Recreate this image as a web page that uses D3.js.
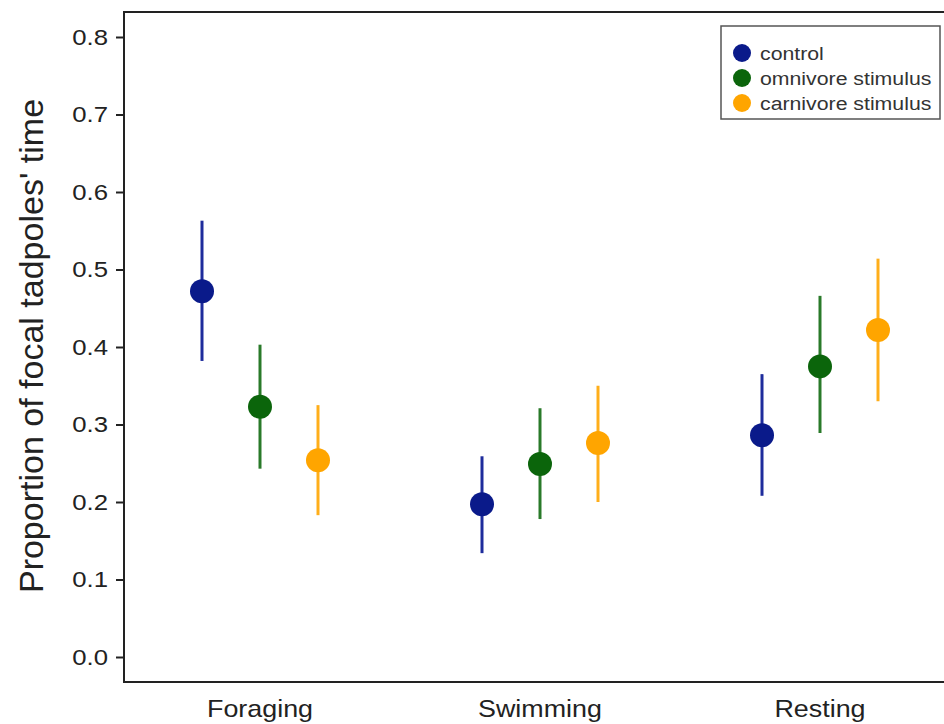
<!DOCTYPE html>
<html>
<head>
<meta charset="utf-8">
<script src="https://cdn.jsdelivr.net/npm/d3@7"></script>
<style>
  body { margin: 0; background: #fff; }
  svg { display: block; font-family: "Liberation Sans", Arial, sans-serif; }
</style>
</head>
<body>
<svg id="chart" width="944" height="724"></svg>
<script>
// data
const behaviours = ["Foraging", "Swimming", "Resting"];
const treatments = ["control", "omnivore stimulus", "carnivore stimulus"];
const colours = ["#0a1a8a", "#0b650b", "#ffa500"];
const barColours = ["#1e2c9c", "#2a7a2a", "#ffae1a"];

const meanControl   = [0.472, 0.197, 0.286];
const meanOmnivore  = [0.323, 0.249, 0.375];
const meanCarnivore = [0.254, 0.276, 0.422];

const lowControl    = [0.382, 0.134, 0.208];
const highControl   = [0.563, 0.259, 0.365];
const lowOmnivore   = [0.243, 0.178, 0.289];
const highOmnivore  = [0.403, 0.321, 0.466];
const lowCarnivore  = [0.183, 0.200, 0.330];
const highCarnivore = [0.325, 0.350, 0.514];

const yTicks = [0, 0.1, 0.2, 0.3, 0.4, 0.5, 0.6, 0.7, 0.8];

const means = [meanControl, meanOmnivore, meanCarnivore];
const lows = [lowControl, lowOmnivore, lowCarnivore];
const highs = [highControl, highOmnivore, highCarnivore];

const svg = d3.select("#chart");
const frame = { left: 124, top: 12, right: 956, bottom: 682 };
const stretch = 1.12; // the original text is a bit wide

const x = d3.scalePoint().domain(behaviours).range([260, 820]);
const offset = d3.scalePoint().domain(treatments).range([-58, 58]);
const y = d3.scaleLinear().domain([0, 0.8]).range([657, 37]);

// one row per point
const rows = [];
treatments.forEach((t, i) => {
  behaviours.forEach((b, j) => {
    rows.push({ t, i, b, mean: means[i][j], lo: lows[i][j], hi: highs[i][j] });
  });
});

// frame
svg.append("rect")
  .attr("x", frame.left).attr("y", frame.top)
  .attr("width", frame.right - frame.left).attr("height", frame.bottom - frame.top)
  .attr("fill", "none").attr("stroke", "#222").attr("stroke-width", 2);

// y axis
const yAxis = svg.append("g")
  .attr("transform", `translate(${frame.left},0)`)
  .call(d3.axisLeft(y).tickValues(yTicks).tickFormat(d3.format(".1f")).tickSize(8));
yAxis.select(".domain").remove();
yAxis.selectAll("line").attr("stroke", "#222").attr("stroke-width", 2);
yAxis.selectAll("text")
  .attr("x", 0)
  .attr("transform", `translate(-16,0) scale(${stretch},1)`)
  .attr("font-size", 23).attr("fill", "#222")
  .attr("font-family", "Liberation Sans, Arial, sans-serif");

// x labels (no tick marks)
svg.append("g").selectAll("text")
  .data(behaviours).join("text")
  .attr("transform", d => `translate(${x(d)},717) scale(${stretch},1)`)
  .attr("text-anchor", "middle")
  .attr("font-size", 24).attr("fill", "#222")
  .text(d => d);

// y title
svg.append("text")
  .attr("transform", "translate(43,346) rotate(-90)")
  .attr("text-anchor", "middle")
  .attr("font-size", 34).attr("fill", "#222")
  .text("Proportion of focal tadpoles' time");

// error bars
svg.append("g").selectAll("line")
  .data(rows).join("line")
  .attr("x1", d => x(d.b) + offset(d.t)).attr("x2", d => x(d.b) + offset(d.t))
  .attr("y1", d => y(d.lo)).attr("y2", d => y(d.hi))
  .attr("stroke", d => barColours[d.i]).attr("stroke-width", 3);

// points
svg.append("g").selectAll("circle")
  .data(rows).join("circle")
  .attr("cx", d => x(d.b) + offset(d.t)).attr("cy", d => y(d.mean))
  .attr("r", 12)
  .attr("fill", d => colours[d.i]);

// legend
const legend = svg.append("g");
legend.append("rect")
  .attr("x", 721).attr("y", 26).attr("width", 219).attr("height", 93)
  .attr("fill", "#fff").attr("stroke", "#555").attr("stroke-width", 1.5);
const items = legend.selectAll("g.item")
  .data(treatments).join("g").attr("class", "item")
  .attr("transform", (d, i) => `translate(742,${53 + i * 25})`);
items.append("circle").attr("r", 9).attr("fill", (d, i) => colours[i]);
items.append("text")
  .attr("transform", `translate(18,0) scale(${stretch},1)`)
  .attr("dy", "0.35em")
  .attr("font-size", 19).attr("fill", "#333")
  .text(d => d);
</script>
</body>
</html>
